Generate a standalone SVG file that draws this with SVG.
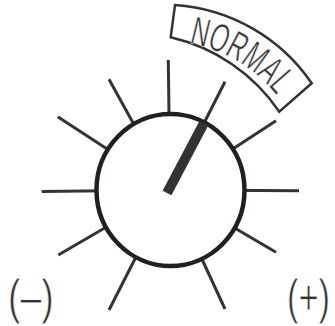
<svg xmlns="http://www.w3.org/2000/svg" width="335" height="326" viewBox="0 0 335 326">
  <defs>
    <style>
      .tick { stroke: #333333; stroke-width: 3; stroke-linecap: butt; fill: none; }
      .dial { fill: #ffffff; stroke: #231f20; stroke-width: 4.5; }
      .needle { stroke: #333333; stroke-width: 10; stroke-linecap: butt; }
      .banner { fill: #ffffff; stroke: #333333; stroke-width: 2.5; stroke-linejoin: miter; }
      .lbl { font-family: "Liberation Sans", Arial, sans-serif; fill: #333333; stroke: #ffffff; }
    </style>
    <path id="arcText" d="M 188 43.2 A 144 144 0 0 1 298.3 134.2"/>
  </defs>
  <rect width="335" height="326" fill="#ffffff"/>
  <g id="connectors">
    <line class="tick" x1="168.3" y1="60" x2="170" y2="190"/>
    <line class="tick" x1="109" y1="79.3" x2="170" y2="190"/>
    <line class="tick" x1="225" y1="81.7" x2="170" y2="190"/>
    <line class="tick" x1="57.7" y1="116.7" x2="170" y2="190"/>
    <line class="tick" x1="276" y1="120.7" x2="170" y2="190"/>
    <line class="tick" x1="41.7" y1="191.5" x2="170" y2="190"/>
    <line class="tick" x1="299" y1="190.7" x2="170" y2="190"/>
    <line class="tick" x1="58.3" y1="255" x2="170" y2="190"/>
    <line class="tick" x1="276" y1="252.3" x2="170" y2="190"/>
    <line class="tick" x1="109" y1="310" x2="170" y2="190"/>
    <line class="tick" x1="225" y1="309" x2="170" y2="190"/>
  </g>
  <g id="dial">
    <ellipse class="dial" cx="170.5" cy="190" rx="74" ry="76"/>
  </g>
  <g id="needle">
    <line class="needle" x1="167" y1="193" x2="204" y2="123"/>
  </g>
  <g id="normal-banner">
    <path class="banner" d="M 175 5 A 180 180 0 0 1 311.7 83.3 L 279.3 111.7 A 180 180 0 0 0 170.7 37.3 Z"/>
    <text class="lbl" font-size="40" stroke-width="0.6"><textPath href="#arcText" startOffset="1" textLength="104" lengthAdjust="spacingAndGlyphs">NORMAL</textPath></text>
  </g>
  <g id="minus-label">
    <text class="lbl" font-size="50" stroke-width="0.8" transform="translate(8 314) scale(0.75 1)">(–)</text>
  </g>
  <g id="plus-label">
    <text class="lbl" font-size="50" stroke-width="0.8" transform="translate(287 314) scale(0.69 1)">(+)</text>
  </g>
</svg>
